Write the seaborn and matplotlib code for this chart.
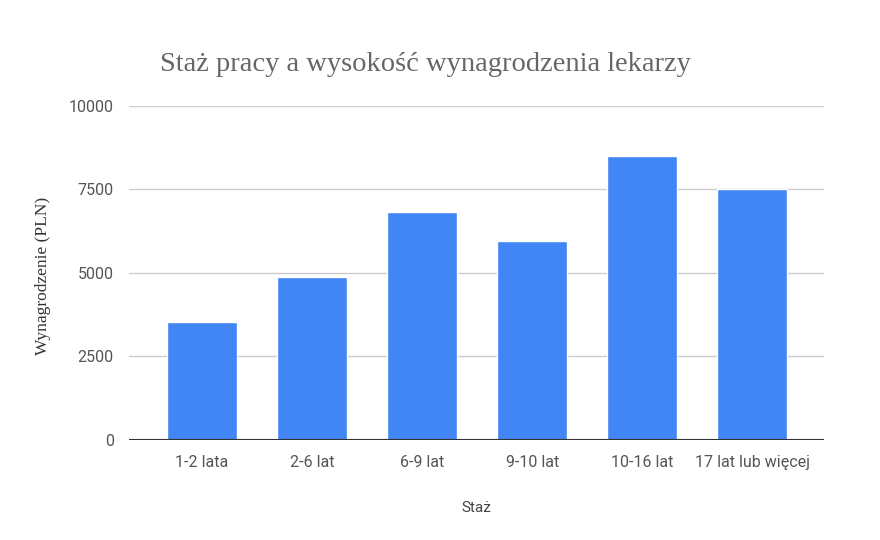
import matplotlib
matplotlib.use("Agg")
import matplotlib.pyplot as plt
import seaborn as sns
import pandas as pd

# values
staz = ["1-2 lata", "2-6 lat", "6-9 lat", "9-10 lat", "10-16 lat", "17 lat lub więcej"]
wynagrodzenie = [3520, 4880, 6830, 5970, 8510, 7500]
y_ticks = [0, 2500, 5000, 7500, 10000]

df = pd.DataFrame({"Staż": staz, "Wynagrodzenie": wynagrodzenie})

sns.set_theme(style="white")
plt.rcParams["font.family"] = ["Roboto", "DejaVu Sans"]

fig = plt.figure(figsize=(8.8, 5.4), dpi=100)
ax = fig.add_axes([0.1466, 0.1852, 0.7898, 0.6185])

sns.barplot(data=df, x="Staż", y="Wynagrodzenie", color="#4285f4",
            saturation=1, width=0.636, ax=ax, zorder=3)

ax.set_xlim(-0.66, 5.65)
ax.set_ylim(0, 10000)
ax.set_yticks(y_ticks)
ax.set_yticklabels([str(t) for t in y_ticks])
ax.grid(axis="y", color="#cccccc", linewidth=1, zorder=0)
ax.axhline(0, color="#333333", linewidth=1.5, zorder=4)
for s in ax.spines.values():
    s.set_visible(False)

ax.tick_params(axis="both", length=0, labelsize=11.5, colors="#555555")
ax.tick_params(axis="x", pad=11)
ax.tick_params(axis="y", pad=11)

ax.set_xlabel("Staż", fontsize=11, color="#444444", labelpad=22,
              family=["Roboto", "DejaVu Sans"])
ax.set_ylabel("Wynagrodzenie (PLN)", fontsize=12.5, color="#333333",
              family=["Liberation Serif", "DejaVu Serif"])
ax.yaxis.set_label_coords(-0.112, 0.49)

fig.text(0.182, 0.88, "Staż pracy a wysokość wynagrodzenia lekarzy",
         fontsize=20.5, color="#666666", ha="left", va="center",
         family=["Liberation Serif", "DejaVu Serif"])

fig.savefig("out.png", dpi=100, facecolor="white")
